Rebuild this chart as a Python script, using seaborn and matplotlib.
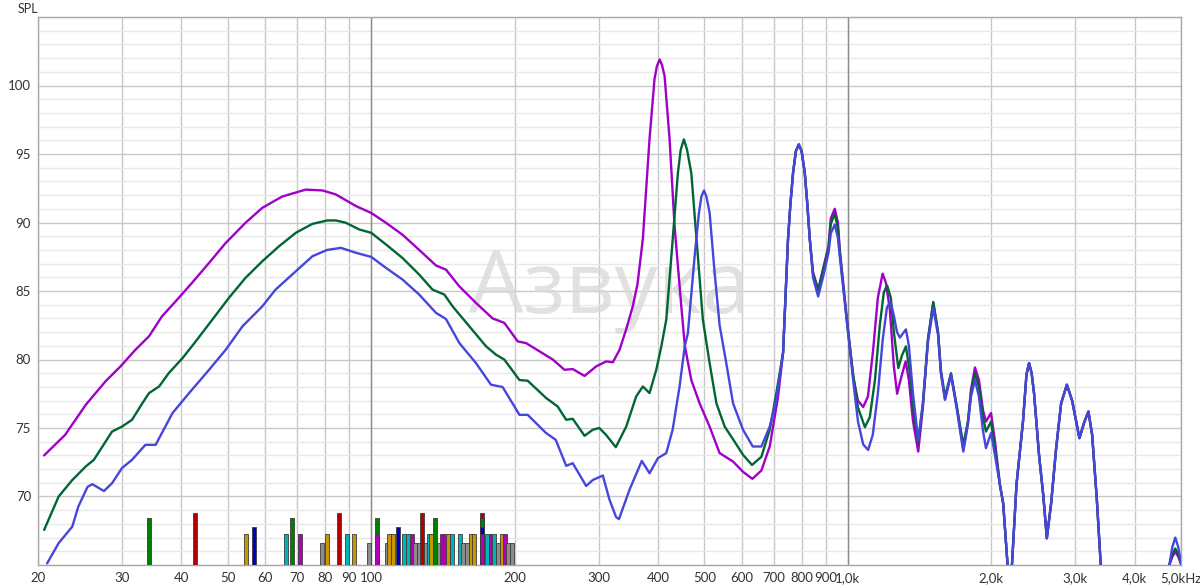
import matplotlib
matplotlib.use("Agg")
import matplotlib.pyplot as plt
from matplotlib.ticker import FixedLocator, NullLocator
import seaborn as sns

# ---------------------------
# Frequency response curves (Hz, dB SPL)
# ---------------------------

mag_f = [20.6, 22.8, 25.2, 27.7, 29.8, 32.0, 34.2, 36.4, 38.9, 42.1, 45.7, 49.5, 54.5, 59.1,
         65.1, 72.9, 79.0, 84.3, 92.9, 100, 107.4, 116.4, 126.1, 136.8, 143.5, 153.1, 165.9,
         179.8, 190.3, 203, 211.3, 225.4, 240.4, 254.4, 264.8, 280.3, 296.6, 311.2, 321.4,
         331.9, 342.8, 354, 362, 371.5, 383.7, 393, 397.5, 402.8, 407.5, 412.6, 422.7, 433.1,
         447.3, 455, 469.5, 488.7, 512.9, 538.3, 574.4, 602.8, 630.6, 658.7, 685.7, 714,
         731.4, 749, 758, 767.4, 778, 789, 800, 812.3, 822, 832.2, 845, 866.4, 887, 911, 921,
         939, 953,
         962, 994, 1026, 1050, 1077, 1102, 1130, 1156, 1183, 1202, 1225, 1249, 1269, 1292,
         1322, 1343, 1370, 1405, 1437, 1473, 1511, 1546, 1568, 1599, 1646, 1694, 1747, 1787,
         1813, 1848, 1884, 1921, 1949, 1997, 2036]
mag_db = [73.0, 74.5, 76.7, 78.4, 79.5, 80.7, 81.7, 83.15, 84.25, 85.6, 87.05, 88.5, 89.98, 91.07,
          91.9, 92.4, 92.34, 92.05, 91.2, 90.7, 89.98, 89.1, 88.0, 86.86, 86.56, 85.34, 84.13,
          83.0, 82.67, 81.32, 81.2, 80.6, 80.0, 79.25, 79.3, 78.8, 79.5, 79.86, 79.8,
          80.7, 82.2, 83.9, 85.5, 88.8, 96.1, 100.45, 101.4, 101.9, 101.5, 100.7, 96.1, 89.7,
          83.9, 81.0, 78.5, 76.8, 75.1, 73.17, 72.55, 71.8, 71.29, 71.9, 73.65, 77.3,
          80.5, 88.76, 91.4, 93.6, 95.2, 95.7, 95.2, 93.6, 91.4, 88.76, 86.4, 85.1, 86.6, 88.3, 90.3,
          91.0, 90.0,
          88.0, 83.15, 78.77, 77.0, 76.53, 77.3, 80.7, 84.5, 86.27, 85.6, 83.64, 79.5, 77.5, 78.6,
          79.86, 78.5, 75.5, 73.28, 76.5, 81.5, 84.13, 82.0, 79.0, 77.1, 78.9, 76.5, 73.4, 75.5,
          77.8, 79.42, 78.5, 76.3, 75.47, 76.09, 74.0]

grn_f = [20.6, 22.1, 23.6, 25.2, 26.2, 27.3, 28.6, 30.0, 31.5, 33.1, 34.2, 35.9, 37.6, 40.2,
         42.8, 46.4, 50.3, 54.5, 59.1, 64.1, 69.5, 75.3, 80.9, 84.3, 88.5, 94.4, 100, 107.4,
         116.4, 126.1, 134.5, 142.4, 148.2, 160.7, 174.2, 182.8, 190.3, 204.7, 213, 232.8,
         246.2, 256.5, 264.8, 280.3, 291.6, 301, 311, 326, 342.8, 359.7, 371.5, 383.7, 396.4,
         406.2, 416, 426.3, 440, 446, 452.9, 460, 469.5, 484.8, 496.5, 512.9, 530, 551.7,
         578.7, 602.8, 629.4, 658.7, 685.7, 708, 731.4, 749, 758, 767.4, 778, 789, 800, 812.3,
         822, 832.2, 845, 866.4, 887, 911, 921, 939, 953,
         962, 994, 1026, 1050, 1086, 1112, 1140, 1167, 1190, 1209, 1231, 1249, 1276, 1299,
         1324, 1350, 1376, 1405, 1437, 1473, 1511, 1546, 1568, 1599, 1646, 1694, 1747, 1787,
         1813, 1848, 1884, 1921, 1949, 1997, 2036]
grn_db = [67.56, 70.0, 71.2, 72.2, 72.68, 73.65, 74.74, 75.1, 75.6, 76.8, 77.55, 78.03, 79.0, 80.1,
          81.3, 82.9, 84.5, 85.96, 87.17, 88.27, 89.25, 89.9, 90.15, 90.15, 89.98, 89.49, 89.25, 88.4,
          87.4, 86.2, 85.1, 84.74, 83.88, 82.42, 80.96, 80.35, 79.99, 78.5, 78.45, 77.19,
          76.57, 75.6, 75.67, 74.43, 74.87, 75.0, 74.5, 73.6, 75.1, 77.3, 78.03, 77.55, 79.25,
          80.96, 82.9, 87.5, 93.6, 95.3, 96.07, 95.3, 93.6, 87.5, 82.9, 79.74, 76.8, 75.1,
          74.0, 73.04, 72.3, 72.9, 74.87, 77.55, 80.5, 88.76, 91.4, 93.6, 95.2, 95.7, 95.2, 93.6,
          91.4, 88.76, 86.3, 85.0, 86.5, 88.1, 89.9, 90.64, 89.6,
          87.8, 83.0, 78.9, 76.5, 75.06, 75.8, 78.5, 82.5, 84.9, 85.4, 84.5, 82.0, 79.38, 80.3,
          80.96, 79.0, 76.0, 73.9, 76.8, 81.5, 84.2, 82.0, 79.2, 77.3, 79.0, 76.5, 73.77, 75.5,
          77.5, 79.0, 78.0, 75.8, 74.74, 75.47, 73.5]

blu_f = [20.9, 22.1, 23.6, 24.3, 25.4, 26.0, 27.5, 28.6, 30.0, 31.5, 33.6, 35.3, 38.3, 41.5,
         45.7, 49.5, 53.7, 59.1, 63.0, 69.5, 75.3, 80.9, 86.4, 92.9, 100, 107.4, 116.4, 126.1,
         136.8, 143.5, 153.1, 165.9, 178.4, 188.7, 204.7, 213, 232.8, 243.9, 256.5, 264.8,
         282.5, 291.6, 306.2, 316, 326.4, 331, 348.4, 369.6, 383.7, 399.6, 416, 429, 443.6,
         454.8, 461.7, 477, 487.1, 493, 499.2, 505, 512.9, 525.6, 538.3, 555.9, 574.4, 602.8,
         631.8, 658.7, 685.7, 708, 731.4, 749, 758, 767.4, 778, 789, 800, 812.3, 822, 832.2,
         845, 866.4, 887, 911, 921, 939, 953,
         962, 994, 1026, 1050, 1077, 1103, 1128, 1156, 1184, 1208, 1229, 1249, 1268, 1286,
         1305, 1324, 1343, 1370, 1405, 1437, 1473, 1511, 1546, 1568, 1599, 1646, 1694, 1747,
         1787, 1813, 1848, 1884, 1921, 1949, 1997, 2036]
blu_db = [65.12, 66.6, 67.8, 69.26, 70.7, 70.9, 70.4, 70.97, 72.07, 72.68, 73.77, 73.77, 76.09, 77.55,
          79.25, 80.7, 82.42, 83.88, 85.1, 86.44, 87.54, 88.0, 88.15, 87.79, 87.49, 86.69, 85.83, 84.74,
          83.4, 82.96, 81.2, 79.74, 78.16, 77.99, 75.96, 75.96, 74.63, 74.14, 72.24, 72.43,
          70.77, 71.2, 71.53, 69.8, 68.5, 68.35, 70.5, 72.6, 71.7, 72.8, 73.17, 74.87, 78.03,
          80.96, 81.9, 87.5, 90.7, 91.9, 92.34, 91.9, 90.7, 86.3, 82.5, 79.74, 76.8, 74.87,
          73.65, 73.65, 75.1, 77.06, 80.5, 88.76, 91.4, 93.6, 95.2, 95.7, 95.2, 93.6, 91.4, 88.76,
          86.0, 84.6, 86.0, 87.8, 89.2, 89.85, 88.9,
          87.5, 83.0, 78.5, 75.5, 73.8, 73.4, 74.5, 77.5, 81.5, 83.8, 84.25, 83.2, 82.0, 81.6,
          81.9, 82.2, 81.0, 77.5, 74.1, 76.8, 81.3, 83.76, 81.8, 79.0, 77.06, 78.9, 76.3, 73.28,
          75.3, 77.3, 78.5, 77.3, 74.8, 73.53, 74.63, 73.0]

# shared top end (curves almost identical above 2 kHz)
tail_f = [2086, 2118, 2189, 2259, 2331, 2370, 2400, 2430, 2459, 2519, 2572, 2615, 2670, 2735,
          2802, 2881, 2955, 3061, 3132, 3197, 3255, 3330, 3400, 3450, 4650, 4726]
tail_db = [70.8, 69.5, 62.5, 70.9, 75.5, 78.9, 79.74, 79.0, 77.5, 73.0, 70.0, 66.95, 69.5, 73.5,
           76.8, 78.16, 77.0, 74.26, 75.4, 76.2, 74.5, 69.75, 64.5, 63.0, 63.0, 65.0]

bump_f = [4794, 4864, 4935, 5008, 5100]
mag_bump = [65.6, 65.97, 65.6, 65.0, 63.0]
grn_bump = [65.8, 66.2, 65.8, 65.0, 63.0]
blu_bump = [66.3, 67.0, 66.3, 65.0, 63.0]

# ---------------------------
# Room mode markers (Hz, type)
# ---------------------------

mode_f = [34.2, 42.6, 54.6, 56.9, 66.3, 68.3, 70.9, 78.9, 80.6, 85.7, 89.0, 92.1, 98.8,
          102.7, 102.7, 108.0, 109.2, 111.1, 113.8, 117.4, 119.5, 121.6, 123.8, 125.7, 128.0,
          130.1, 132.4, 133.7, 136.4, 138.5, 140.6, 142.9, 145.1, 148.0, 153.3, 156.2, 158.7,
          161.6, 164.5, 171.2, 171.2, 171.2, 171.2, 175.3, 178.5, 181.0, 184.5, 187.7, 190.9,
          194.0, 197.7]
mode_kind = ["green", "red", "orange", "blue", "cyan", "green", "magenta", "gray", "orange",
             "red", "cyan", "orange", "gray",
             "green", "magenta", "gray", "orange", "orange", "blue", "cyan", "cyan", "magenta",
             "gray", "gray", "red",
             "gray", "cyan", "orange", "green", "gray", "magenta", "magenta", "orange", "cyan",
             "cyan", "gray", "gray",
             "orange", "orange", "red", "green", "blue", "magenta", "cyan", "magenta", "cyan",
             "gray", "orange", "magenta",
             "gray", "gray"]
mode_top = {"red": 68.8, "green": 68.4, "blue": 67.75, "cyan": 67.25, "orange": 67.25,
            "magenta": 67.25, "gray": 66.6}
mode_color = {"red": "#b40000", "green": "#008000", "blue": "#0000c0", "cyan": "#00b4b4",
              "orange": "#c89600", "magenta": "#b400b4", "gray": "#8c8c8c"}

x_ticks = [20, 30, 40, 50, 60, 70, 80, 90, 100, 200, 300, 400, 500, 600, 700, 800, 900,
           1000, 2000, 3000, 4000, 5000]
x_labels = ["20", "30", "40", "50", "60", "70", "80", "90", "100", "200", "300", "400", "500",
            "600", "700", "800", "900", "1,0k", "2,0k", "3,0k", "4,0k", "5,0kHz"]
y_ticks = [70, 75, 80, 85, 90, 95, 100]

# ---------------------------
# Plot
# ---------------------------

sns.set_style("white")
plt.rcParams['font.family'] = ['Lato', 'DejaVu Sans']

fig = plt.figure(figsize=(12, 5.87), dpi=100)
ax = fig.add_axes([38 / 1200, 22 / 587, 1143 / 1200, 548 / 587])

ax.set_xscale("log")
ax.set_xlim(20, 5000)
ax.set_ylim(65, 105)

# grid
ax.xaxis.set_major_locator(FixedLocator(x_ticks))
ax.xaxis.set_minor_locator(NullLocator())
ax.set_xticklabels(x_labels)
ax.yaxis.set_major_locator(FixedLocator(y_ticks))
ax.yaxis.set_minor_locator(FixedLocator(list(range(65, 106))))
ax.grid(which="minor", axis="y", color="#e8e8e8", lw=1.0, zorder=0)
ax.grid(which="major", axis="y", color="#c8c8c8", lw=1.0, zorder=0)
ax.grid(which="major", axis="x", color="#c8c8c8", lw=1.0, zorder=0)
for dec in [100, 1000]:
    ax.axvline(dec, color="#8c8c8c", lw=1.0, zorder=1)
ax.set_axisbelow(True)
for sp in ax.spines.values():
    sp.set_color("#a8a8a8")
    sp.set_linewidth(1.0)
ax.tick_params(which="both", length=0, labelsize=9.5, labelcolor="#333333", pad=5)

# watermark
ax.text(0.5, 0.5, "Азвука", transform=ax.transAxes, fontsize=62, color="#d8d8d8",
        alpha=0.75, ha="center", va="center", zorder=1.5, family=["Open Sans", "DejaVu Sans"])

# room mode bars, constant width on the log axis
lo, hi = 10 ** -0.0042, 10 ** 0.0042
modes = sorted(zip(mode_f, mode_kind), key=lambda m: (m[0], -mode_top[m[1]]))
for f, kind in modes:
    ax.bar(f * lo, mode_top[kind] - 65, width=f * (hi - lo), bottom=65, align="edge",
           color=mode_color[kind], edgecolor="#3c3c3c", linewidth=0.6, zorder=3)

# response curves
curves = [
    (mag_f + tail_f + bump_f, mag_db + tail_db + mag_bump, "#a000c8"),
    (grn_f + tail_f + bump_f, grn_db + tail_db + grn_bump, "#006633"),
    (blu_f + tail_f + bump_f, blu_db + tail_db + blu_bump, "#4646dc"),
]
for xs, ys, col in curves:
    sns.lineplot(x=xs, y=ys, ax=ax, color=col, lw=1.7, estimator=None, sort=False, zorder=4)

ax.set_xlabel("")
ax.set_ylabel("")
fig.text(18 / 1200, 1 - 9 / 587, "SPL", fontsize=9, color="#333333", va="center")

fig.savefig("out.png", dpi=100)
